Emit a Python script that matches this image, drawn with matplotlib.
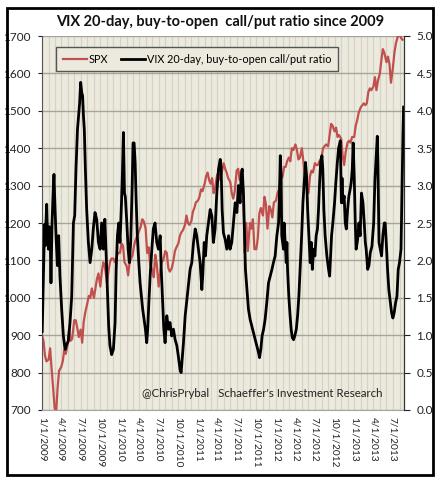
import matplotlib
matplotlib.use("Agg")
import matplotlib.pyplot as plt
import matplotlib.dates as mdates
from matplotlib.patches import Rectangle
from matplotlib.lines import Line2D
import pandas as pd

plt.rcParams['font.family'] = ['Lato', 'DejaVu Sans']

# SPX, read on the 1st, 8th, 15th and 22nd of each month, Jan 2009 - Aug 2013
spx_days_of_month = [1, 8, 15, 22]
spx_2009 = [900, 885, 845, 830, 835, 865, 810, 760, 705, 690, 760, 805,
            815, 830, 860, 850, 875, 915, 885, 890, 940, 940, 920, 895,
            915, 880, 935, 960, 985, 1005, 1000, 1025, 1000, 1025, 1050, 1065,
            1030, 1070, 1095, 1085, 1040, 1070, 1095, 1105, 1105, 1095, 1105, 1120]
spx_2010 = [1120, 1145, 1140, 1095, 1085, 1060, 1095, 1105, 1115, 1140, 1155, 1165,
            1180, 1190, 1210, 1205, 1185, 1120, 1135, 1090, 1075, 1055, 1115, 1090,
            1030, 1070, 1095, 1100, 1125, 1120, 1080, 1070, 1080, 1100, 1125, 1135,
            1145, 1165, 1175, 1180, 1195, 1220, 1200, 1195, 1205, 1230, 1240, 1255]
spx_2011 = [1260, 1270, 1290, 1285, 1305, 1325, 1335, 1315, 1305, 1320, 1280, 1295,
            1330, 1330, 1315, 1335, 1360, 1345, 1335, 1320, 1310, 1280, 1265, 1285,
            1340, 1345, 1315, 1340, 1290, 1120, 1200, 1125, 1200, 1185, 1210, 1130,
            1130, 1160, 1225, 1240, 1220, 1270, 1250, 1185, 1245, 1235, 1215, 1255]
spx_2012 = [1260, 1280, 1290, 1315, 1325, 1350, 1350, 1365, 1375, 1365, 1400, 1395,
            1410, 1395, 1370, 1375, 1400, 1365, 1330, 1315, 1280, 1325, 1340, 1335,
            1360, 1355, 1355, 1365, 1375, 1400, 1405, 1410, 1405, 1435, 1465, 1460,
            1445, 1455, 1430, 1435, 1425, 1380, 1355, 1390, 1415, 1420, 1415, 1430]
spx_2013 = [1430, 1460, 1475, 1495, 1510, 1515, 1520, 1515, 1520, 1550, 1560, 1555,
            1565, 1590, 1555, 1580, 1600, 1635, 1665, 1655, 1630, 1645, 1625, 1575,
            1615, 1655, 1680, 1695, 1705, 1695, 1690]

# VIX 20-day buy-to-open call/put ratio (days since 1/1/2009, value)
ratio_day = [1, 5, 9, 12, 15, 17, 22, 26, 30, 34, 38, 42, 47, 52, 56, 61, 66, 72, 78, 84,
             92, 100, 108, 116, 123, 131, 139, 143, 147, 153, 159, 166, 172, 176, 181, 186, 190, 194, 198, 203,
             209, 217, 225, 233, 240, 248, 256, 264, 272,
             279, 287, 294, 300, 306, 312, 318, 326, 334, 342, 347, 353, 359, 365, 372, 376, 381, 386, 390, 397,
             403, 409, 415, 422, 426, 431, 436, 440, 446, 453, 459, 465, 471, 478, 484, 490, 495, 500, 506, 514,
             521, 529, 537, 545, 553, 558,
             562, 566, 570, 576, 584, 592, 599, 607, 615, 623, 631, 638, 646, 651, 657, 662, 670, 678, 685, 693,
             701, 709, 717, 724, 732, 740, 748, 752, 759, 765, 771, 779, 787, 795, 802, 810, 818, 826, 834, 838, 843,
             849, 857, 865, 873, 880, 888, 896, 904, 912, 919, 927, 932, 937, 943, 948, 952, 959, 966, 974, 982,
             990, 998, 1005, 1013, 1018, 1024, 1030, 1037, 1044, 1052, 1060, 1068, 1076, 1083, 1091, 1099, 1107,
             1111, 1115, 1119,
             1122, 1130, 1133, 1138, 1143, 1146, 1149, 1155, 1161, 1166, 1171, 1177, 1183, 1190, 1196, 1202, 1208,
             1215, 1221, 1227, 1233, 1238, 1243, 1249, 1255, 1260, 1265, 1271, 1277, 1283, 1289, 1294, 1299, 1304,
             1310, 1314, 1319, 1325, 1333, 1341, 1346, 1349, 1355, 1361, 1369, 1375, 1382, 1388, 1396, 1401, 1404,
             1408, 1414, 1419, 1424, 1430, 1436, 1442, 1447, 1452, 1456, 1461, 1466, 1470, 1477, 1483, 1489, 1495,
             1502, 1508, 1513, 1517, 1524, 1530, 1536, 1544, 1552, 1558, 1564, 1569, 1572, 1577, 1583, 1589, 1595,
             1602, 1606, 1611, 1617, 1623, 1630, 1636, 1642, 1648, 1655, 1661, 1667, 1673, 1680, 1684, 1689, 1692]
ratio_val = [1.05, 1.6, 2.1, 2.48, 2.2, 2.4, 2.75, 2.3, 2.15, 2.45, 2.37, 1.70, 2.5, 2.9, 3.15, 2.7, 2.3, 1.93, 2.33, 1.79,
             1.35, 0.99, 0.81, 0.88, 0.92, 1.17, 1.52, 2.0, 2.5, 2.6, 3.22, 3.75, 3.97, 4.1, 4.38, 4.24, 4.2, 3.93, 3.75, 3.22,
             2.68, 2.24, 1.97, 2.15, 2.42, 2.64, 2.55, 2.24, 2.15,
             2.5, 2.15, 2.55, 2.1, 1.61, 1.12, 0.86, 0.74, 0.81, 1.17, 1.88, 2.33, 2.5, 2.24, 2.77, 3.13, 3.71, 2.9, 2.85, 2.5,
             2.15, 1.97, 2.24, 3.0, 3.57, 3.57, 3.3, 2.86, 2.33, 1.97, 1.70, 1.52, 1.35, 1.21, 1.08, 0.90, 1.1, 1.44, 1.79, 2.15,
             2.42, 2.5, 2.24, 2.15, 2.33, 1.88,
             1.6, 1.35, 1.08, 0.90, 1.26, 1.08, 1.17, 0.99, 1.08, 0.94, 0.86, 0.72, 0.54, 0.50, 0.72, 0.90, 1.26, 1.48, 1.66, 1.88,
             1.97, 2.24, 2.42, 2.33, 2.15, 1.97, 1.61, 1.79, 2.24, 2.06, 2.33, 2.5, 2.68, 2.59, 2.24, 2.42, 2.9, 3.22, 3.35, 3.25, 2.68,
             2.37, 2.28, 2.15, 2.33, 2.15, 2.24, 2.5, 2.77, 2.64, 3.0, 2.77, 3.13, 3.22, 2.86, 2.33, 1.88, 1.61, 1.35, 1.21, 1.12,
             1.03, 0.94, 0.86, 0.77, 0.70, 0.81, 0.99, 1.08, 1.21, 1.44, 1.70, 1.79, 1.88, 1.97, 2.06, 2.33, 2.5,
             2.86, 3.4, 3.13,
             2.33, 2.15, 2.5, 2.24, 1.97, 2.24, 1.88, 1.52, 1.26, 1.08, 0.97, 0.94, 0.99, 1.08, 1.26, 1.52, 1.88,
             2.33, 2.77, 3.04, 3.31, 3.13, 2.68, 2.33, 1.97, 2.24, 1.88, 2.15, 2.06, 2.33, 2.42, 2.68, 3.04, 3.31,
             3.4, 3.22, 2.68, 2.33, 2.06, 1.88, 1.79, 1.97, 2.33, 2.5, 2.77, 3.04, 3.31, 3.5, 3.6, 2.77, 3.1,
             2.77, 2.86, 2.5, 2.42, 2.68, 2.86, 2.95, 3.04, 3.22, 3.57, 3.13, 2.5, 2.15, 2.28, 2.5, 2.33, 2.9,
             2.77, 2.5, 2.24, 2.15, 1.88, 1.93, 2.1, 2.19, 2.5, 3.08, 3.4, 3.66, 3.3, 2.24, 2.15, 2.06, 2.33,
             2.5, 2.5, 2.24, 1.88, 1.61, 1.44, 1.30, 1.23, 1.30, 1.44, 1.52, 1.88, 1.97, 2.15, 2.86, 3.66, 4.05]

title = "VIX 20-day, buy-to-open  call/put ratio since 2009"
credit = "@ChrisPrybal   Schaeffer's Investment Research"

# build dates
spx_vals = spx_2009 + spx_2010 + spx_2011 + spx_2012 + spx_2013
spx_dates = []
for year in range(2009, 2014):
    for month in range(1, 13):
        for d in spx_days_of_month:
            spx_dates.append(pd.Timestamp(year, month, d))
spx_dates = spx_dates[:len(spx_vals)]
ratio_dates = pd.Timestamp("2009-01-01") + pd.to_timedelta(ratio_day, unit="D")

fig = plt.figure(figsize=(4.4, 4.82), dpi=100)
fig.patch.set_facecolor("white")
fig.patches.append(Rectangle((7 / 440, 1 - 475 / 482), 426 / 440, 467 / 482,
                             transform=fig.transFigure, fill=False,
                             edgecolor="black", linewidth=2))

ax = fig.add_axes([42 / 440, 1 - 410 / 482, 362 / 440, 374 / 482])
ax.set_facecolor("#ece9de")
ax.plot(spx_dates, spx_vals, color="#c0504d", linewidth=1.6)
ax.set_ylim(700, 1700)
ax.set_yticks(range(700, 1701, 100))
ax.set_xlim(pd.Timestamp("2009-01-01"), pd.Timestamp("2013-08-22"))

quarters = pd.date_range("2009-01-01", "2013-07-01", freq="QS")
ax.set_xticks(quarters)
ax.set_xticklabels([f"{d.month}/{d.day}/{d.year}" for d in quarters],
                   rotation=-90, fontsize=7.3, color="#222222")
ax.xaxis.set_minor_locator(mdates.MonthLocator())
ax.grid(True, which="minor", axis="x", color="#d6d2c4", linewidth=0.9)
ax.grid(True, which="major", axis="x", color="#d6d2c4", linewidth=0.9)
ax.grid(True, which="major", axis="y", color="#a8a498", linewidth=1.0)
ax.set_axisbelow(True)
ax.tick_params(axis="y", labelsize=8.5, colors="#222222", length=3, pad=5)
ax.tick_params(axis="x", length=0, pad=5)
ax.tick_params(axis="x", which="minor", length=0)
ax.spines["top"].set_visible(False)
ax.spines["left"].set_color("#555555")
ax.spines["bottom"].set_color("#a8a498")

ax2 = ax.twinx()
ax2.plot(ratio_dates, ratio_val, color="black", linewidth=2.0)
ax2.set_ylim(0, 5)
ax2.set_yticks([i / 2 for i in range(11)])
ax2.set_yticklabels([f"{i / 2:.1f}" for i in range(11)])
ax2.tick_params(axis="y", labelsize=8.5, colors="#222222", length=4, pad=5)
ax2.spines["top"].set_visible(False)
ax2.spines["right"].set_color("#333333")
ax2.spines["left"].set_visible(False)
ax2.spines["bottom"].set_visible(False)

handles = [Line2D([], [], color="#c0504d", linewidth=1.6),
           Line2D([], [], color="black", linewidth=2.0)]
leg = ax2.legend(handles, ["SPX", "VIX 20-day, buy-to-open call/put ratio"],
                 loc="upper left", bbox_to_anchor=(0.025, 0.985), ncol=2,
                 fontsize=7.8, frameon=True, fancybox=False, handlelength=2.2,
                 columnspacing=1.2, handletextpad=0.2, borderpad=0.6)
leg.get_frame().set_facecolor("#ece9de")
leg.get_frame().set_edgecolor("#555555")
leg.get_frame().set_alpha(1)

ax2.text(0.94, 0.03, credit, transform=ax2.transAxes, ha="right", va="bottom",
         fontsize=8.3, color="#222222")
fig.text(0.5, 1 - 22 / 482, title, ha="center", va="center",
         fontsize=10.5, fontweight="bold", color="#111111")

fig.savefig("out.png", dpi=100)
